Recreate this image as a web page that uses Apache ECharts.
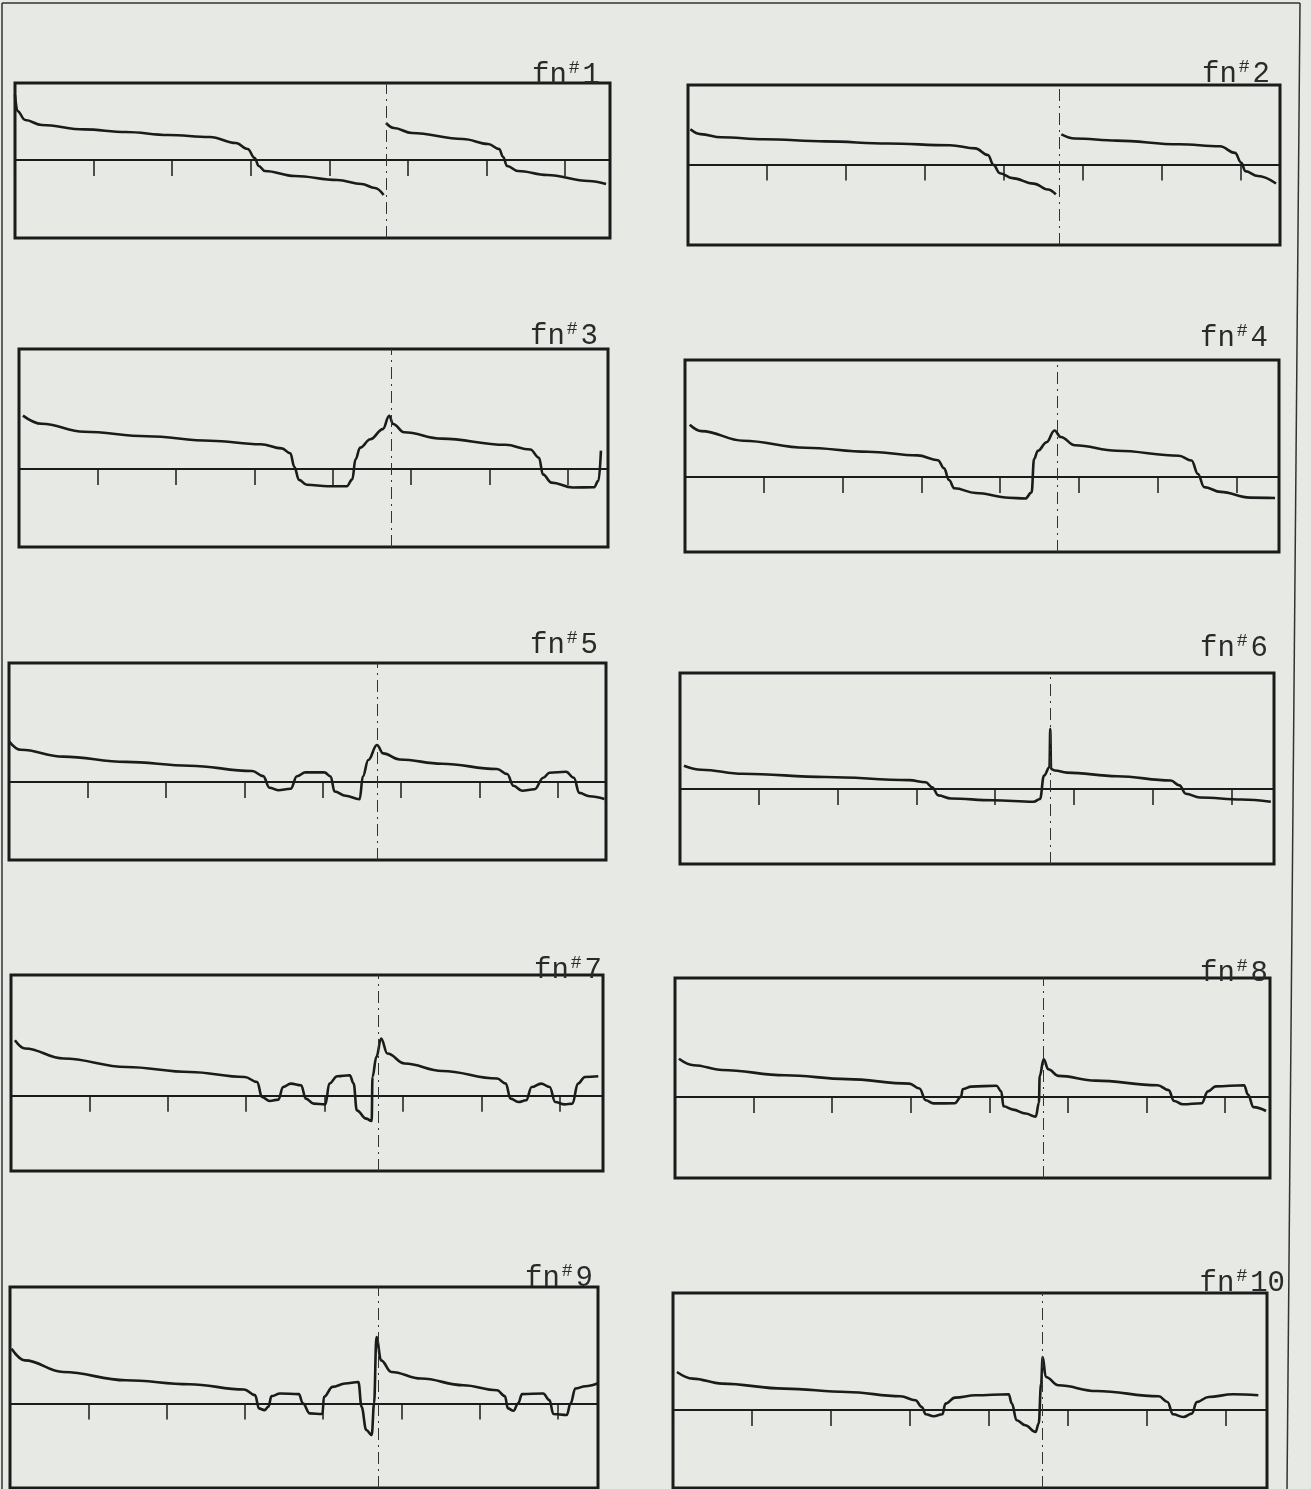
<!DOCTYPE html>
<html><head><meta charset="utf-8">
<script src="https://cdn.jsdelivr.net/npm/echarts@6/dist/echarts.min.js"></script>
<style>html,body{margin:0;padding:0;background:#e7eae4;}#c{width:1311px;height:1489px;}</style>
</head><body><div id="c"></div>
<script>
// Panel titles
const panelNumbers = ['1','2','3','4','5','6','7','8','9','10'];
// position of the dash-dot reference line (in tick units)
const dashX = [4.72, 4.70, 4.74, 4.72, 4.69, 4.70, 4.69, 4.69, 4.70, 4.68];
// curves: [x (tick units), y (relative to baseline)]
const fn1 = [[0.0,6.5],[0.03,4.9],[0.13,4.0],[0.34,3.5],[0.88,3.06],[1.41,2.8],[1.95,2.5],[2.48,2.3],[2.81,1.7],[2.96,1.1],[3.05,0.2],[3.10,-0.6],[3.18,-1.1],[3.56,-1.6],[4.10,-2.0],[4.41,-2.4],[4.58,-2.8],[4.69,-3.5],[4.70,'-'],[4.72,3.7],[4.82,3.2],[5.05,2.7],[5.70,2.1],[6.02,1.6],[6.16,1.1],[6.21,0.3],[6.26,-0.6],[6.40,-1.1],[6.77,-1.5],[7.30,-2.1],[7.52,-2.4]];
const fn2 = [[0.03,3.53],[0.16,3.04],[0.42,2.73],[0.96,2.53],[1.74,2.31],[2.53,2.10],[3.32,1.92],[3.64,1.61],[3.80,0.95],[3.87,-0.04],[3.95,-0.87],[4.11,-1.36],[4.38,-1.91],[4.56,-2.5],[4.66,-2.99],[4.70,'-'],[4.73,3.01],[4.90,2.6],[5.43,2.39],[6.22,2.02],[6.74,1.82],[6.93,1.16],[7.01,0.17],[7.06,-0.66],[7.22,-1.15],[7.45,-1.9]];
const fn3 = [[0.05,5.34],[0.29,4.52],[0.83,3.73],[1.63,3.28],[2.44,2.83],[3.08,2.48],[3.35,2.06],[3.46,1.57],[3.51,0.23],[3.57,-1.09],[3.67,-1.58],[3.94,-1.73],[4.18,-1.72],[4.25,-1.04],[4.29,0.96],[4.35,2.14],[4.48,2.98],[4.64,3.99],[4.72,5.32],[4.77,4.5],[4.91,3.68],[5.39,3.04],[6.2,2.42],[6.52,1.95],[6.63,1.13],[6.68,-0.54],[6.79,-1.36],[7.06,-1.85],[7.33,-1.83],[7.39,-1.16],[7.42,1.84]];
const fn4 = [[0.06,5.23],[0.21,4.59],[0.74,3.63],[1.53,2.93],[2.32,2.53],[2.95,2.16],[3.21,1.68],[3.29,0.86],[3.35,-0.3],[3.42,-1.13],[3.69,-1.6],[4.11,-2.07],[4.32,-2.15],[4.40,-1.54],[4.43,1.79],[4.48,2.63],[4.59,3.48],[4.69,4.65],[4.77,4.0],[4.95,3.17],[5.48,2.62],[6.27,2.13],[6.43,1.65],[6.51,0.31],[6.59,-1.01],[6.8,-1.49],[7.17,-2.06],[7.49,-2.1]];
const fn5 = [[0.0,4.07],[0.15,3.22],[0.69,2.54],[1.49,2.01],[2.30,1.63],[3.10,1.10],[3.24,0.59],[3.32,-0.57],[3.43,-0.82],[3.59,-0.68],[3.67,0.57],[3.78,0.97],[4.02,0.96],[4.10,0.55],[4.15,-0.95],[4.29,-1.38],[4.47,-1.72],[4.51,0.54],[4.58,2.2],[4.69,3.7],[4.77,2.86],[4.98,2.25],[5.52,1.83],[6.22,1.3],[6.35,0.8],[6.43,-0.38],[6.54,-0.88],[6.70,-0.72],[6.81,0.43],[6.89,0.93],[7.10,1.02],[7.20,0.42],[7.27,-1.09],[7.40,-1.42],[7.59,-1.7]];
const fn6 = [[0.05,2.33],[0.27,1.93],[0.80,1.52],[1.85,1.2],[2.91,0.89],[3.12,0.67],[3.20,0.18],[3.28,-0.64],[3.44,-0.95],[3.97,-1.13],[4.49,-1.28],[4.57,-1.0],[4.62,1.34],[4.69,2.18],[4.70,6.02],[4.71,2.0],[4.76,1.85],[4.91,1.64],[5.55,1.28],[6.23,0.85],[6.34,0.36],[6.42,-0.47],[6.60,-0.85],[7.13,-1.05],[7.50,-1.28]];
const fn7 = [[0.05,5.55],[0.18,4.72],[0.67,3.72],[1.47,2.88],[2.28,2.38],[2.98,1.88],[3.14,1.38],[3.20,-0.12],[3.30,-0.52],[3.41,-0.38],[3.47,0.88],[3.57,1.22],[3.70,1.05],[3.76,-0.28],[3.86,-0.78],[4.01,-0.85],[4.06,1.22],[4.16,1.95],[4.32,2.05],[4.37,1.22],[4.41,-1.45],[4.53,-2.28],[4.60,-2.52],[4.61,1.88],[4.66,3.88],[4.72,5.72],[4.80,4.22],[5.02,3.22],[5.50,2.48],[6.20,1.72],[6.31,1.22],[6.37,-0.28],[6.47,-0.62],[6.57,-0.45],[6.64,0.88],[6.76,1.22],[6.87,0.88],[6.94,-0.62],[7.06,-0.85],[7.16,-0.78],[7.23,1.22],[7.32,1.88],[7.49,1.95]];
const fn8 = [[0.05,3.83],[0.24,3.18],[0.60,2.7],[1.40,2.18],[2.19,1.79],[2.98,1.34],[3.11,0.85],[3.19,-0.32],[3.29,-0.64],[3.56,-0.63],[3.64,0.04],[3.66,0.78],[3.77,1.04],[4.09,1.13],[4.15,0.57],[4.18,-0.93],[4.30,-1.26],[4.46,-1.65],[4.59,-1.97],[4.63,-0.57],[4.64,2.09],[4.69,3.77],[4.75,2.77],[4.88,2.11],[5.35,1.64],[6.14,1.18],[6.28,0.69],[6.35,-0.4],[6.46,-0.73],[6.70,-0.62],[6.78,0.56],[6.88,1.06],[7.24,1.18],[7.29,0.24],[7.36,-1.01],[7.52,-1.4]];
const fn9 = [[0.02,5.5],[0.19,4.33],[0.68,3.16],[1.48,2.33],[2.29,1.93],[2.99,1.4],[3.13,0.83],[3.18,-0.5],[3.25,-0.67],[3.30,-0.34],[3.34,0.73],[3.45,1.0],[3.69,0.93],[3.74,0.0],[3.83,-1.0],[3.99,-1.07],[4.01,0.66],[4.12,1.66],[4.28,2.0],[4.45,2.16],[4.49,-0.34],[4.55,-2.67],[4.62,-3.17],[4.65,0.0],[4.68,6.66],[4.74,4.33],[4.87,3.16],[5.25,2.5],[5.79,1.83],[6.22,1.33],[6.32,0.73],[6.36,-0.5],[6.43,-0.74],[6.49,0.0],[6.54,0.93],[6.81,1.0],[6.89,0.33],[6.94,-1.07],[7.11,-1.17],[7.16,0.0],[7.22,1.5],[7.35,1.73],[7.50,2.0]];
const fn10 = [[0.05,3.8],[0.25,3.14],[0.62,2.64],[1.41,2.14],[2.20,1.8],[2.88,1.37],[3.07,0.97],[3.15,0.3],[3.20,-0.43],[3.30,-0.63],[3.41,-0.43],[3.45,0.64],[3.57,1.24],[3.83,1.47],[4.25,1.57],[4.29,0.64],[4.35,-1.03],[4.46,-1.53],[4.59,-2.2],[4.63,-1.36],[4.66,2.64],[4.68,5.3],[4.72,3.3],[4.88,2.47],[5.36,1.9],[6.15,1.37],[6.26,0.8],[6.33,-0.43],[6.46,-0.7],[6.57,-0.36],[6.63,0.8],[6.78,1.3],[7.09,1.57],[7.41,1.47]];
const curves = [fn1, fn2, fn3, fn4, fn5, fn6, fn7, fn8, fn9, fn10];

// layout (pixels) and axis extents
const layout = [
  {left:15,  top:83,   width:595, height:155, xMax:7.57, yMin:-7.8, yMax:7.7,  tR:600,  tB:86},
  {left:688, top:85,   width:592, height:160, xMax:7.50, yMin:-8.05,yMax:7.95, tR:1270, tB:85},
  {left:19,  top:349,  width:589, height:198, xMax:7.51, yMin:-7.8, yMax:12.0, tR:598,  tB:347},
  {left:685, top:360,  width:594, height:192, xMax:7.54, yMin:-7.5, yMax:11.7, tR:1268, tB:349},
  {left:9,   top:663,  width:597, height:197, xMax:7.61, yMin:-7.8, yMax:11.9, tR:598,  tB:656},
  {left:680, top:673,  width:594, height:191, xMax:7.54, yMin:-7.5, yMax:11.6, tR:1268, tB:659},
  {left:11,  top:975,  width:592, height:196, xMax:7.55, yMin:-7.5, yMax:12.05,tR:602,  tB:981},
  {left:675, top:978,  width:595, height:200, xMax:7.57, yMin:-8.1, yMax:11.9, tR:1268, tB:984},
  {left:10,  top:1287, width:588, height:201, xMax:7.51, yMin:-8.5, yMax:11.7, tR:593,  tB:1289},
  {left:673, top:1293, width:594, height:195, xMax:7.52, yMin:-7.8, yMax:11.7, tR:1285, tB:1294}
];

const INK = '#1b1b1b';
const FONT = '"Liberation Mono", "DejaVu Sans Mono", monospace';
const chart = echarts.init(document.getElementById('c'), null, {renderer:'canvas'});
const option = {
  backgroundColor: '#e7eae4',
  animation: false,
  title: layout.map((p, i) => ({
    text: '{a|fn}{b|#}{c|' + panelNumbers[i] + '}',
    right: 1311 - p.tR,
    top: p.tB - 27,
    padding: 0,
    textStyle: {
      fontFamily: FONT, fontWeight: 'normal',
      rich: {
        a: {fontFamily: FONT, fontWeight: 'normal', fontSize: 29, color: '#2a2a2a', lineHeight: 32},
        b: {fontFamily: FONT, fontWeight: 'normal', fontSize: 18, color: '#2a2a2a', padding: [0, 3, 14, 2], lineHeight: 32},
        c: {fontFamily: FONT, fontWeight: 'normal', fontSize: 29, color: '#2a2a2a', lineHeight: 32}
      }
    }
  })),
  grid: layout.map(p => ({
    left: p.left, top: p.top, width: p.width, height: p.height,
    show: true, borderColor: INK, borderWidth: 3, backgroundColor: 'transparent'
  })),
  xAxis: layout.map((p, i) => ({
    type: 'value', gridIndex: i, min: 0, max: p.xMax, interval: 1,
    axisLine: {show: true, onZero: true, lineStyle: {color: INK, width: 2}},
    axisTick: {show: true, inside: false, length: 16, lineStyle: {color: INK, width: 1.5}},
    axisLabel: {show: false},
    splitLine: {show: false}
  })),
  yAxis: layout.map((p, i) => ({
    type: 'value', gridIndex: i, min: p.yMin, max: p.yMax, show: false,
    splitLine: {show: false}
  })),
  series: curves.map((d, i) => ({
    type: 'line', xAxisIndex: i, yAxisIndex: i, data: d,
    showSymbol: false, smooth: 0.4, smoothMonotone: 'x', connectNulls: false,
    lineStyle: {color: INK, width: 2.6},
    markLine: {
      silent: true, symbol: 'none', label: {show: false},
      lineStyle: {color: '#333', width: 1, type: [12, 5, 2, 5]},
      data: [{xAxis: dashX[i]}]
    }
  })),
  graphic: [
    {type: 'line', shape: {x1: 2, y1: 3, x2: 1300, y2: 3}, style: {stroke: '#333', lineWidth: 1.5}},
    {type: 'line', shape: {x1: 2, y1: 3, x2: 2, y2: 1489}, style: {stroke: '#333', lineWidth: 1.5}},
    {type: 'line', shape: {x1: 1300, y1: 3, x2: 1287, y2: 1489}, style: {stroke: '#333', lineWidth: 1.5}}
  ]
};
chart.setOption(option);
</script></body></html>
